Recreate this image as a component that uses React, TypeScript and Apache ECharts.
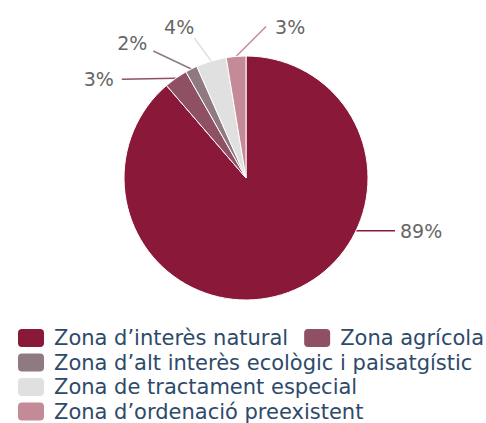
import React, { useEffect, useRef } from "react";
import * as echarts from "echarts";

const categories = [
  "Zona d\u2019interès natural",
  "Zona agrícola",
  "Zona d\u2019alt interès ecològic i paisatgístic",
  "Zona de tractament especial",
  "Zona d\u2019ordenació preexistent",
];
const values = [88.7, 3.1, 1.6, 4.0, 2.6];
const colors = ["#8A1838", "#905064", "#8E7A80", "#E0E0E0", "#C58A98"];

const legendRows = [
  [categories[0], categories[1]],
  [categories[2]],
  [categories[3]],
  [categories[4]],
];

const CX = 246;
const CY = 178;
const R = 122;
const FONT = "'DejaVu Sans', Verdana, sans-serif";

// label connector layout (styling): end offset from edge anchor, text offset from end
const LABEL_STYLE = [
  { angle: 115.6, ex: 39, ey: 0, tx: 5, ty: 0, align: "left" },
  { ex: -54, ey: 1, tx: -8, ty: 0, align: "right" },
  { ex: -38, ey: -18, tx: -6, ty: -8, align: "right" },
  { ex: -17, ey: -23, tx: 0, ty: -11, align: "right" },
  { ex: 30, ey: -30, tx: 9, ty: 1, align: "left" },
];

export default function App() {
  const ref = useRef<HTMLDivElement>(null);
  useEffect(() => {
    if (!ref.current) return;
    const chart = echarts.init(ref.current, null, { renderer: "svg" });
    const total = values.reduce((a, b) => a + b, 0);
    const mids: number[] = [];
    let acc = 0;
    values.forEach((v) => {
      mids.push(((acc + v / 2) / total) * 360);
      acc += v;
    });

    const legends = legendRows.map((row, i) => ({
      data: row,
      left: 16,
      top: 327 + i * 24.5,
      width: 470,
      orient: "horizontal",
      padding: 0,
      itemGap: 14,
      itemWidth: 28,
      itemHeight: 20,
      icon: "roundRect",
      textStyle: {
        fontSize: 21,
        color: "#2E4A6A",
        fontFamily: FONT,
        padding: [0, 0, 0, 4],
      },
    }));

    chart.setOption({
      animation: false,
      legend: legends,
      series: [
        {
          type: "pie",
          center: [CX, CY],
          radius: R,
          startAngle: 90,
          clockwise: true,
          avoidLabelOverlap: false,
          data: categories.map((name, i) => ({
            name,
            value: values[i],
            itemStyle: { color: colors[i] },
          })),
          itemStyle: { borderColor: "#ffffff", borderWidth: 1 },
          label: {
            show: true,
            formatter: (p: any) => Math.round(p.percent) + "%",
            fontSize: 19,
            color: "#666666",
            fontFamily: FONT,
          },
          labelLine: { show: true, length: 10, length2: 10, lineStyle: { width: 1.5 } },
          emphasis: { disabled: true },
          labelLayout: (params: any) => {
            const i = params.dataIndex;
            const s: any = LABEL_STYLE[i];
            const ang = ((s.angle !== undefined ? s.angle : mids[i]) * Math.PI) / 180;
            const x0 = CX + R * Math.sin(ang);
            const y0 = CY - R * Math.cos(ang);
            const x1 = x0 + s.ex;
            const y1 = y0 + s.ey;
            return {
              x: x1 + s.tx,
              y: y1 + s.ty,
              align: s.align,
              verticalAlign: "middle",
              labelLinePoints: [
                [x0, y0],
                [x1, y1],
                [x1, y1],
              ],
            };
          },
        },
      ],
    });
    return () => chart.dispose();
  }, []);
  return (
    <div
      ref={ref}
      style={{ position: "absolute", left: 0, top: 0, width: 486, height: 423 }}
    />
  );
}
